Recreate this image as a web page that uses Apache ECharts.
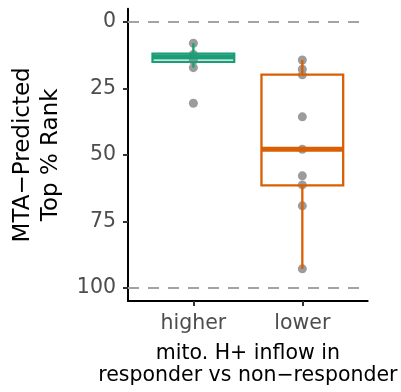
<!DOCTYPE html>
<html><head><meta charset="utf-8">
<script src="https://cdn.jsdelivr.net/npm/echarts@6/dist/echarts.min.js"></script>
<style>html,body{margin:0;padding:0;background:#fff}#c{width:401px;height:392px}</style>
</head><body><div id="c"></div>
<script>
// ---- data ----
const categories = ['higher', 'lower'];
const boxColors = ['#1b9e77', '#d95f02'];
const pointsHigher = [8.0, 12.2, 13.0, 14.5, 17.2, 30.6];
const pointsLower = [14.3, 17.8, 19.9, 35.7, 47.9, 57.9, 61.3, 69.2, 92.9];
const whiskerLow = [8.0, 14.3];
const q1 = [11.9, 19.8];
const median = [13.2, 47.9];
const q3 = [15.0, 61.5];
const whiskerHigh = [17.2, 92.9];
const yTicks = [0, 25, 50, 75, 100];
const refLines = [0, 100];

const FONT = 'DejaVu Sans';
const chart = echarts.init(document.getElementById('c'), null, {renderer: 'canvas'});

const pointData = [];
pointsHigher.forEach(v => pointData.push([1, v]));
pointsLower.forEach(v => pointData.push([2, v]));
const boxData = categories.map((c, i) => [i + 1, whiskerLow[i], q1[i], median[i], q3[i], whiskerHigh[i], i]);

chart.setOption({
  animation: false,
  grid: {left: 128, right: 33.3, top: 8.7, bottom: 90.5, containLabel: false},
  xAxis: {
    type: 'value', min: 0.4, max: 2.6,
    splitLine: {show: false},
    axisLine: {show: true, onZero: false, lineStyle: {color: '#000', width: 2}},
    axisTick: {show: true, customValues: [1, 2], length: 5, lineStyle: {color: '#333', width: 2}},
    axisLabel: {customValues: [1, 2], formatter: v => categories[Math.round(v) - 1],
      color: '#4d4d4d', fontFamily: FONT, fontSize: 20.5, margin: 12},
    name: 'mito. H+ inflow in\nresponder vs non\u2212responder',
    nameLocation: 'middle', nameGap: 42,
    nameTextStyle: {color: '#000', fontFamily: FONT, fontSize: 20.5, lineHeight: 22}
  },
  yAxis: {
    type: 'value', inverse: true, min: -5, max: 105,
    splitLine: {show: false},
    axisLine: {show: true, onZero: false, lineStyle: {color: '#000', width: 2}},
    axisTick: {show: true, customValues: yTicks, length: 5, lineStyle: {color: '#333', width: 2}},
    axisLabel: {customValues: yTicks, color: '#4d4d4d', fontFamily: FONT, fontSize: 20.5, margin: 12},
    name: 'MTA\u2212Predicted\nTop % Rank', nameRotate: 90,
    nameLocation: 'middle', nameGap: 63,
    nameTextStyle: {color: '#000', fontFamily: FONT, fontSize: 23, lineHeight: 28}
  },
  series: [
    {
      type: 'line', data: [], z: 1,
      markLine: {
        silent: true, symbol: ['none', 'none'], label: {show: false},
        lineStyle: {color: '#a3a3a3', width: 2, type: [11, 9]},
        data: refLines.map(v => ({yAxis: v}))
      }
    },
    {
      type: 'scatter', data: pointData, symbolSize: 9, z: 2,
      itemStyle: {color: '#9c9c9c', opacity: 1}
    },
    {
      type: 'custom', z: 3, data: boxData,
      renderItem: function (params, api) {
        const x = api.value(0);
        const ci = api.value(6);
        const col = boxColors[ci];
        const hw = api.size([0.75, 0])[0] / 2;
        const pLo = api.coord([x, api.value(1)]);
        const pQ1 = api.coord([x, api.value(2)]);
        const pMed = api.coord([x, api.value(3)]);
        const pQ3 = api.coord([x, api.value(4)]);
        const pHi = api.coord([x, api.value(5)]);
        const lw = 2.3;
        return {
          type: 'group', children: [
            {type: 'line', shape: {x1: pLo[0], y1: pLo[1], x2: pQ1[0], y2: pQ1[1]}, style: {stroke: col, lineWidth: lw}},
            {type: 'line', shape: {x1: pQ3[0], y1: pQ3[1], x2: pHi[0], y2: pHi[1]}, style: {stroke: col, lineWidth: lw}},
            {type: 'rect', shape: {x: pQ1[0] - hw, y: Math.min(pQ1[1], pQ3[1]), width: 2 * hw, height: Math.abs(pQ3[1] - pQ1[1])},
              style: {stroke: col, fill: 'none', lineWidth: lw}},
            {type: 'line', shape: {x1: pMed[0] - hw, y1: pMed[1], x2: pMed[0] + hw, y2: pMed[1]}, style: {stroke: col, lineWidth: 5}}
          ]
        };
      }
    }
  ]
});
</script></body></html>
